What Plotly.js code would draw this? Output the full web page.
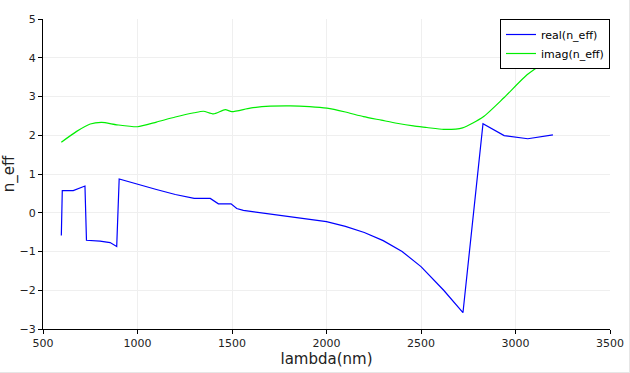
<!DOCTYPE html>
<html>
<head>
<meta charset="utf-8">
<script src="https://cdn.plot.ly/plotly-3.0.1.min.js"></script>
<style>
html,body{margin:0;padding:0;background:#fff;}
#chart{width:630px;height:373px;}
#frame{position:absolute;left:0;top:0;width:629px;height:372px;border-right:1px solid #e6e6e6;border-bottom:1px solid #e6e6e6;pointer-events:none;}
</style>
</head>
<body>
<div id="chart"></div>
<div id="frame"></div>
<script>
var realLambda = [597, 602, 660, 722, 730, 802, 855, 890, 903, 1000, 1100, 1200, 1300, 1385, 1428, 1495, 1525, 1560, 1650, 1750, 1850, 2000, 2100, 2200, 2300, 2400, 2500, 2620, 2722, 2828, 2940, 3065, 3198];
var realN      = [-0.59, 0.57, 0.57, 0.69, -0.71, -0.73, -0.77, -0.87, 0.87, 0.73, 0.60, 0.47, 0.37, 0.37, 0.23, 0.23, 0.11, 0.06, 0.00, -0.06, -0.12, -0.23, -0.35, -0.51, -0.72, -1.00, -1.39, -2.00, -2.58, 2.30, 1.99, 1.91, 2.01];

var imagLambda = [597, 678, 750, 811, 890, 1000, 1100, 1200, 1300, 1349, 1402, 1464, 1499, 1596, 1702, 1808, 1910, 2002, 2100, 2196, 2290, 2372, 2460, 2531, 2620, 2720, 2828, 2937, 3061, 3175, 3198];
var imagN      = [1.82, 2.10, 2.29, 2.33, 2.27, 2.22, 2.34, 2.47, 2.58, 2.62, 2.55, 2.66, 2.61, 2.70, 2.75, 2.76, 2.74, 2.70, 2.60, 2.48, 2.39, 2.31, 2.24, 2.20, 2.15, 2.19, 2.47, 2.96, 3.56, 3.95, 4.02];

var seriesNames = ['real(n_eff)', 'imag(n_eff)'];
var xTitle = 'lambda(nm)';
var yTitle = 'n_eff';

var fontFam = 'DejaVu Sans, sans-serif';

var traces = [
  {x: realLambda, y: realN, name: seriesNames[0], mode: 'lines', type: 'scatter',
   line: {color: '#0000ff', width: 1.2}},
  {x: imagLambda, y: imagN, name: seriesNames[1], mode: 'lines', type: 'scatter',
   line: {color: '#00ee00', width: 1.2, shape: 'spline', smoothing: 0.6}}
];

var layout = {
  width: 630, height: 373,
  margin: {l: 43, r: 20.4, t: 19.3, b: 44.3, pad: 0},
  paper_bgcolor: '#ffffff', plot_bgcolor: '#ffffff',
  font: {family: fontFam, size: 11, color: '#222'},
  showlegend: true,
  legend: {x: 1, y: 1, xanchor: 'right', yanchor: 'top',
    bgcolor: '#ffffff', bordercolor: '#000000', borderwidth: 1,
    font: {family: fontFam, size: 11, color: '#000'},
    tracegroupgap: 0, itemwidth: 30},
  xaxis: {range: [500, 3500], dtick: 500, tick0: 500,
    showline: true, linecolor: '#000', linewidth: 1, mirror: false,
    ticks: 'outside', ticklen: 4, tickcolor: '#000',
    showgrid: true, gridcolor: '#efefef', zeroline: false,
    tickfont: {family: fontFam, size: 11, color: '#222'},
    title: {text: xTitle, font: {family: fontFam, size: 15, color: '#222'}, standoff: 4}},
  yaxis: {range: [-3, 5], dtick: 1,
    showline: true, linecolor: '#000', linewidth: 1, mirror: false,
    ticks: 'outside', ticklen: 4, tickcolor: '#000',
    showgrid: true, gridcolor: '#efefef', zeroline: false,
    tickfont: {family: fontFam, size: 11, color: '#222'},
    title: {text: yTitle, font: {family: fontFam, size: 15, color: '#222'}, standoff: 6}}
};

Plotly.newPlot('chart', traces, layout, {displayModeBar: false, staticPlot: true});
</script>
</body>
</html>
